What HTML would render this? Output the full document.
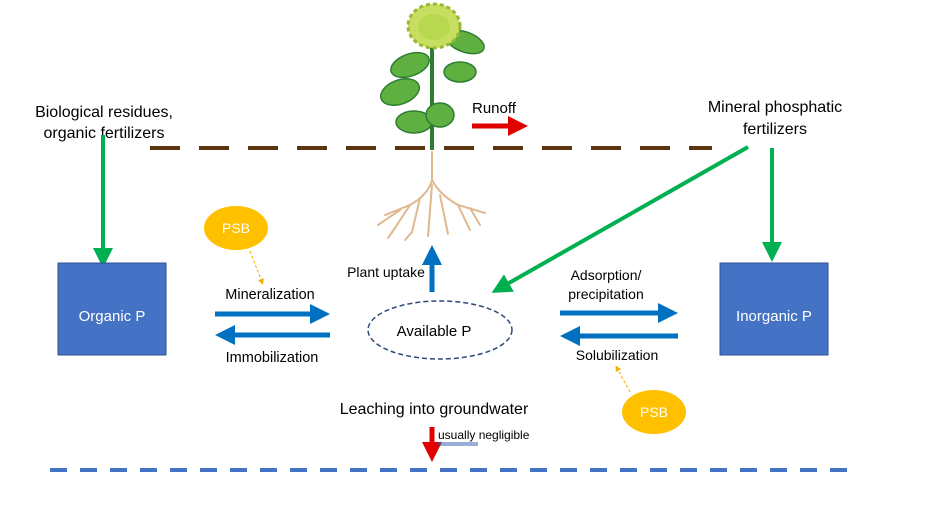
<!DOCTYPE html>
<html><head><meta charset="utf-8"><style>
html,body{margin:0;padding:0;background:#fff;}
svg{display:block;font-family:"Liberation Sans",Calibri,sans-serif;}
</style></head><body>
<svg width="927" height="520" viewBox="0 0 927 520" xmlns="http://www.w3.org/2000/svg">
<defs>
<marker id="ab" markerWidth="4" markerHeight="4" refX="2" refY="2" orient="auto" markerUnits="strokeWidth"><path d="M0,0 L4,2 L0,4 Z" fill="#0070c0"/></marker>
<marker id="ag" markerWidth="5" markerHeight="5" refX="2" refY="2.5" orient="auto" markerUnits="strokeWidth"><path d="M0,0 L5,2.5 L0,5 Z" fill="#00b050"/></marker>
<marker id="ar" markerWidth="4" markerHeight="4" refX="2" refY="2" orient="auto" markerUnits="strokeWidth"><path d="M0,0 L4,2 L0,4 Z" fill="#e00000"/></marker>
<marker id="ao" markerWidth="6" markerHeight="6" refX="3" refY="3" orient="auto"><path d="M0,0 L6,3 L0,6 Z" fill="#f0b000"/></marker>
</defs>
<rect width="927" height="520" fill="#fff"/>
<line x1="150" y1="148" x2="712" y2="148" stroke="#5a3510" stroke-width="4" stroke-dasharray="30,19"/>
<line x1="50" y1="470" x2="850" y2="470" stroke="#4472c4" stroke-width="4" stroke-dasharray="17,13"/>
<g stroke="#e0b890" stroke-width="2" fill="none" stroke-linecap="round">
<path d="M432,152 L432,180 Q428,195 410,205 L385,215"/>
<path d="M432,180 Q440,195 458,205 L485,213"/>
<path d="M410,205 L395,228"/><path d="M420,198 L412,232"/><path d="M432,185 L428,236"/>
<path d="M440,195 L448,234"/><path d="M458,205 L470,230"/><path d="M400,210 L378,225"/>
<path d="M470,208 L480,225"/><path d="M395,228 L388,238"/><path d="M412,232 L405,240"/>
</g>
<line x1="432" y1="150" x2="432" y2="45" stroke="#2e7d32" stroke-width="4"/>
<g fill="#5fb040" stroke="#2e7d32" stroke-width="1.5">
<ellipse cx="410" cy="65" rx="20" ry="11" transform="rotate(-20 410 65)"/>
<ellipse cx="465" cy="42" rx="20" ry="10" transform="rotate(20 465 42)"/>
<ellipse cx="460" cy="72" rx="16" ry="10"/>
<ellipse cx="400" cy="92" rx="20" ry="12" transform="rotate(-20 400 92)"/>
<ellipse cx="414" cy="122" rx="18" ry="11"/>
<ellipse cx="440" cy="115" rx="14" ry="12"/>
</g>
<ellipse cx="434" cy="26" rx="26" ry="22" fill="#c8de60" stroke="#98b830" stroke-width="3" stroke-dasharray="4,3"/>
<ellipse cx="434" cy="27" rx="16" ry="13" fill="#b8d850"/>
<text x="472" y="113" font-size="15" fill="#000">Runoff</text>
<line x1="472" y1="126" x2="518" y2="126" stroke="#e00000" stroke-width="5" marker-end="url(#ar)"/>
<text x="104" y="117" font-size="16" text-anchor="middle">Biological residues,</text>
<text x="104" y="138" font-size="16" text-anchor="middle">organic fertilizers</text>
<text x="775" y="112" font-size="16" text-anchor="middle">Mineral phosphatic</text>
<text x="775" y="134" font-size="16" text-anchor="middle">fertilizers</text>
<line x1="103" y1="135" x2="103" y2="256" stroke="#00b050" stroke-width="4" marker-end="url(#ag)"/>
<line x1="772" y1="148" x2="772" y2="250" stroke="#00b050" stroke-width="4" marker-end="url(#ag)"/>
<line x1="748" y1="147" x2="502" y2="287" stroke="#00b050" stroke-width="4" marker-end="url(#ag)"/>
<rect x="58" y="263" width="108" height="92" fill="#4472c4" stroke="#2f528f" stroke-width="1"/>
<text x="112" y="321" font-size="15" fill="#fff" text-anchor="middle">Organic P</text>
<rect x="720" y="263" width="108" height="92" fill="#4472c4" stroke="#2f528f" stroke-width="1"/>
<text x="774" y="321" font-size="15" fill="#fff" text-anchor="middle">Inorganic P</text>
<ellipse cx="440" cy="330" rx="72" ry="29" fill="#fff" stroke="#2f4a7a" stroke-width="1.5" stroke-dasharray="5,3"/>
<text x="434" y="336" font-size="15" text-anchor="middle">Available P</text>
<line x1="215" y1="314" x2="320" y2="314" stroke="#0070c0" stroke-width="5" marker-end="url(#ab)"/>
<line x1="330" y1="335" x2="225" y2="335" stroke="#0070c0" stroke-width="5" marker-end="url(#ab)"/>
<line x1="560" y1="313" x2="668" y2="313" stroke="#0070c0" stroke-width="5" marker-end="url(#ab)"/>
<line x1="678" y1="336" x2="570" y2="336" stroke="#0070c0" stroke-width="5" marker-end="url(#ab)"/>
<line x1="432" y1="292" x2="432" y2="255" stroke="#0070c0" stroke-width="5" marker-end="url(#ab)"/>
<text x="270" y="299" font-size="14.5" text-anchor="middle">Mineralization</text>
<text x="272" y="362" font-size="14.5" text-anchor="middle">Immobilization</text>
<text x="386" y="277" font-size="14" text-anchor="middle">Plant uptake</text>
<text x="606" y="280" font-size="14" text-anchor="middle">Adsorption/</text>
<text x="606" y="299" font-size="14" text-anchor="middle">precipitation</text>
<text x="617" y="360" font-size="14" text-anchor="middle">Solubilization</text>
<ellipse cx="236" cy="228" rx="32" ry="22" fill="#ffc000"/>
<text x="236" y="233" font-size="14" fill="#fff" text-anchor="middle">PSB</text>
<line x1="250" y1="251" x2="262" y2="282" stroke="#f0b000" stroke-width="1" stroke-dasharray="3,2" marker-end="url(#ao)"/>
<ellipse cx="654" cy="412" rx="32" ry="22" fill="#ffc000"/>
<text x="654" y="417" font-size="14" fill="#fff" text-anchor="middle">PSB</text>
<line x1="630" y1="392" x2="617" y2="368" stroke="#f0b000" stroke-width="1" stroke-dasharray="3,2" marker-end="url(#ao)"/>
<text x="434" y="414" font-size="16" text-anchor="middle">Leaching into groundwater</text>
<line x1="432" y1="427" x2="432" y2="452" stroke="#e00000" stroke-width="5" marker-end="url(#ar)"/>
<text x="438" y="439" font-size="12">usually negligible</text>
<line x1="438" y1="443" x2="478" y2="443" stroke="#2f5fb0" stroke-width="1"/>
<line x1="438" y1="445" x2="478" y2="445" stroke="#2f5fb0" stroke-width="1"/>
</svg>
</body></html>
